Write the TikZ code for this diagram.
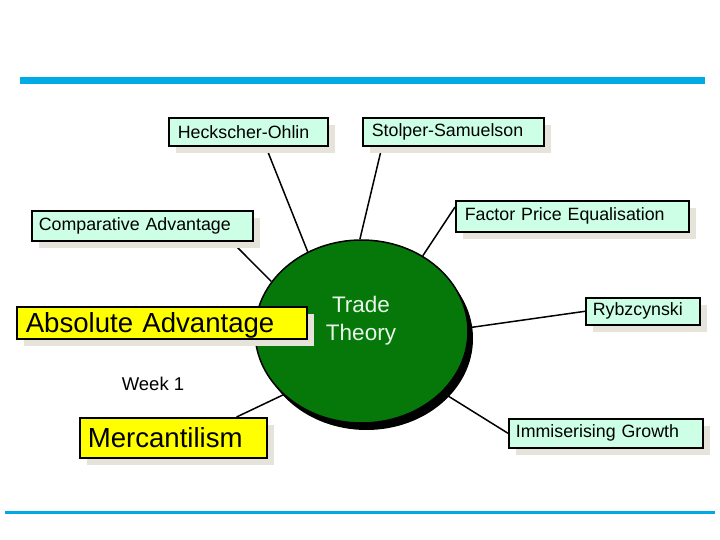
\documentclass[tikz,border=0pt]{standalone}
\usepackage{fontspec}
\setmainfont{Liberation Sans}
\usetikzlibrary{shapes.geometric,shadows,backgrounds}
\definecolor{mint}{RGB}{204,255,229}
\definecolor{yel}{RGB}{255,255,0}
\definecolor{shadowc}{RGB}{230,227,218}
\definecolor{tgreen}{RGB}{6,120,10}
\definecolor{barblue}{RGB}{0,170,228}
\definecolor{ttext}{RGB}{232,246,232}
\tikzset{
  boxbase/.style={draw=black, line width=1.6pt, anchor=north west, align=left, inner ysep=0pt,
    drop shadow={shadow xshift=7pt, shadow yshift=-7pt, fill=shadowc, opacity=1}},
  mintbox/.style={boxbase, fill=mint, font=\fontsize{17.8}{20}\selectfont},
  yelbox/.style={boxbase, fill=yel, font=\fontsize{27.6}{30}\selectfont, text depth=-2pt},
  conn/.style={draw=black, line width=1.5pt},
}
\begin{document}
\begin{tikzpicture}[x=1pt,y=-1pt]
\useasboundingbox (0,0) rectangle (720,540);
% bars
\fill[barblue] (20,77) rectangle (705,84);
\fill[barblue] (5,511) rectangle (715,514);
% ellipse
\node[ellipse, draw=black, line width=1.5pt, fill=tgreen, minimum width=213pt, minimum height=183pt, inner sep=0pt,
  drop shadow={shadow xshift=5pt, shadow yshift=-7pt, fill=black, opacity=1}] (tt) at (361.5,331.5) {};
\node[text=ttext, align=center, font=\fontsize{22.5}{28}\selectfont] (ttl) at (361,321) {Trade\\Theory};
% boxes
\node[mintbox, minimum width=159pt, minimum height=28pt, inner xsep=9pt, text width=141pt] (HO) at (168,117) {Heckscher-Ohlin};
\node[mintbox, minimum width=181pt, minimum height=28pt, inner xsep=9pt, text width=163pt] (SS) at (362,117) {Stolper-Samuelson};
\node[mintbox, minimum width=221pt, minimum height=30pt, inner xsep=7pt, text width=207pt] (CA) at (31,210) {Comparative Advantage};
\node[mintbox, minimum width=233pt, minimum height=31pt, inner xsep=9pt, text width=215pt] (FPE) at (455,200) {Factor Price Equalisation};
\node[mintbox, minimum width=114pt, minimum height=27pt, inner xsep=7pt, text width=100pt] (RY) at (585,297) {Rybzcynski};
\node[mintbox, minimum width=194pt, minimum height=29pt, inner xsep=7pt, text width=180pt] (IG) at (508,418) {Immiserising Growth};
\node[yelbox, minimum width=290pt, minimum height=32pt, inner xsep=9pt, text width=272pt] (AA) at (16,306) {Absolute Advantage};
\node[yelbox, minimum width=187pt, minimum height=40pt, inner xsep=8pt, text width=171pt] (ME) at (79,417) {Mercantilism};
\node[font=\fontsize{18.5}{22}\selectfont] (wk) at (153,384) {Week 1};
% connectors
\begin{scope}[on background layer]
\draw[conn] ([xshift=17.5pt]HO.south) -- (tt.124);
\draw[conn] ([xshift=20pt]SS.south west) -- (tt.91);
\draw[conn] ([xshift=-22pt]CA.south east) -- (tt.151);
\draw[conn] ([yshift=-7pt]FPE.north west) -- (tt.51);
\draw[conn] (RY.west) -- (tt.2);
\draw[conn] (IG.west) -- (tt.-37);
\draw[conn] ([xshift=-31pt]ME.north east) -- (tt.219);
\end{scope}
\end{tikzpicture}
\end{document}
